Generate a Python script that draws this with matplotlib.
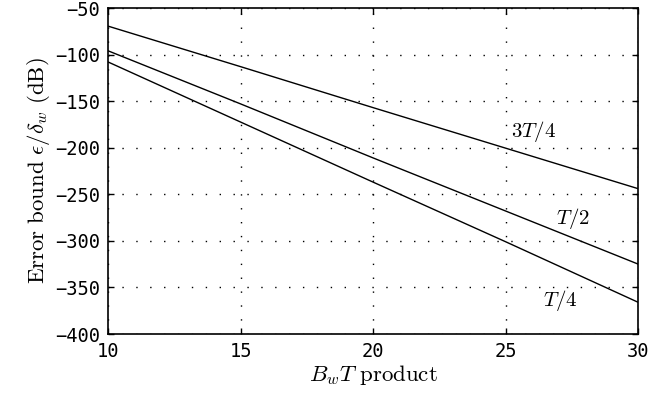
import numpy as np
import matplotlib
matplotlib.use('Agg')
import matplotlib.pyplot as plt

plt.rcParams['mathtext.fontset'] = 'cm'

# B_w T product
bwt = [10, 15, 20, 25, 30]
# error bound (dB)
err_3T4 = [-69.5, -113, -157, -200.5, -244]
err_T2 = [-96, -153, -211, -268, -325]
err_T4 = [-108, -172.5, -237, -301, -366]

labels = [r'$3T/4$', r'$T/2$', r'$T/4$']
label_pos = [(25.2, -183), (26.9, -276), (26.4, -364)]

fig = plt.figure(figsize=(6.52, 4.01), dpi=100)
ax = fig.add_axes([0.166, 0.167, 0.813, 0.813])

for y in (err_3T4, err_T2, err_T4):
    ax.plot(bwt, y, 'k-', lw=1.0)

for txt, (x, y) in zip(labels, label_pos):
    ax.text(x, y, txt, fontsize=15, va='center', ha='left')

ax.set_xlim(10, 30)
ax.set_ylim(-400, -50)
ax.set_xticks([10, 15, 20, 25, 30])
ax.set_yticks(np.arange(-400, -49, 50))
ax.grid(True, linestyle=(0, (1, 9)), color='k', lw=1.0)
ax.tick_params(direction='in', length=4, width=1, top=True, right=True,
               labelsize=13.5, pad=6)
for lab in ax.get_xticklabels() + ax.get_yticklabels():
    lab.set_fontfamily('DejaVu Sans Mono')
for s in ax.spines.values():
    s.set_linewidth(1.2)

ax.set_xlabel(r'$B_wT\ \mathrm{product}$', fontsize=16.5, labelpad=1)
ax.set_ylabel(r'$\mathrm{Error\ bound}\ \epsilon/\delta_w\ \mathrm{(dB)}$',
              fontsize=16.5, labelpad=2)

fig.savefig('out.png', dpi=100)
